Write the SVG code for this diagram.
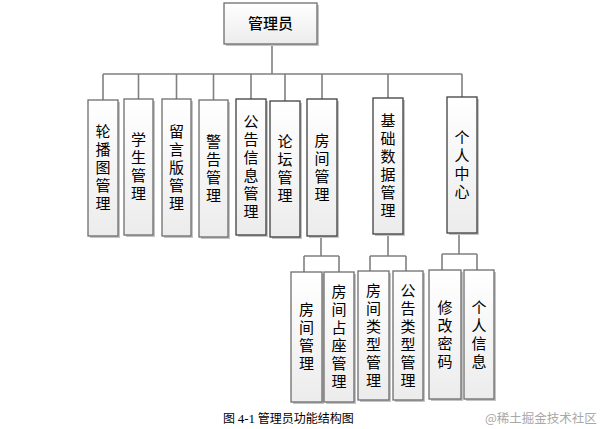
<svg xmlns="http://www.w3.org/2000/svg" width="601" height="429" viewBox="0 0 601 429">
<defs>
<linearGradient id="g" x1="0" y1="0" x2="0" y2="1">
<stop offset="0" stop-color="#ffffff"/>
<stop offset="1" stop-color="#ececec"/>
</linearGradient>
<style>
.sh{fill:#c4c4c4;}
.bx{fill:url(#g);stroke:#6e6e6e;stroke-width:1.3;}
.t{font-family:"Noto Sans CJK SC",sans-serif;font-size:15px;fill:#000;text-anchor:middle;}
.v{writing-mode:vertical-rl;letter-spacing:3px;}
.c{fill:none;stroke:#808080;stroke-width:1.6;}
.cap{font-family:"Noto Sans CJK SC",sans-serif;font-size:12px;fill:#000;}
.wm{font-family:"Noto Sans CJK SC",sans-serif;font-size:12.5px;fill:#a8a8a8;}
</style>
</defs>
<rect width="601" height="429" fill="#fff"/>
<g id="connectors">
<path class="c" d="M272,44V74M103,74H462M103,74V100M138.5,74V99M176.5,74V99M213.5,74V100M251,74V99M285,74V101M322,74V99M388,74V98M462,74V97"/>
<path class="c" d="M321,236V256M304,256H339M304,256V272M339,256V272"/>
<path class="c" d="M388,234V256M370,256H406M370,256V271M406,256V271"/>
<path class="c" d="M459,233V254M442,254H477M442,254V270M477,254V270"/>
</g>
<g id="n0"><rect class="sh" x="226" y="5" width="93" height="41"/><rect class="bx" x="224" y="3" width="93" height="41"/><text class="t" x="270.5" y="29" style="font-weight:500">管理员</text></g>
<g id="n1"><rect class="sh" x="90" y="102" width="30" height="136"/><rect class="bx" x="88" y="100" width="30" height="136"/><text class="t v" x="103" y="169">轮播图管理</text></g>
<g id="n2"><rect class="sh" x="126" y="101" width="29" height="136"/><rect class="bx" x="124" y="99" width="29" height="136"/><text class="t v" x="138.5" y="168">学生管理</text></g>
<g id="n3"><rect class="sh" x="164" y="101" width="29" height="137"/><rect class="bx" x="162" y="99" width="29" height="137"/><text class="t v" x="176.5" y="168.5">留言版管理</text></g>
<g id="n4"><rect class="sh" x="201" y="102" width="29" height="137"/><rect class="bx" x="199" y="100" width="29" height="137"/><text class="t v" x="213.5" y="169.5">警告管理</text></g>
<g id="n5"><rect class="sh" x="238" y="101" width="30" height="136"/><rect class="bx" x="236" y="99" width="30" height="136" style="stroke:#404040"/><text class="t v" x="251" y="168">公告信息管理</text></g>
<g id="n6"><rect class="sh" x="272" y="103" width="30" height="136"/><rect class="bx" x="270" y="101" width="30" height="136" style="stroke:#404040"/><text class="t v" x="285" y="170">论坛管理</text></g>
<g id="n7"><rect class="sh" x="309" y="101" width="30" height="137"/><rect class="bx" x="307" y="99" width="30" height="137" style="stroke:#404040"/><text class="t v" x="322" y="168.5">房间管理</text></g>
<g id="n8"><rect class="sh" x="375" y="100" width="30" height="136"/><rect class="bx" x="373" y="98" width="30" height="136" style="stroke:#404040"/><text class="t v" x="388" y="167">基础数据管理</text></g>
<g id="n9"><rect class="sh" x="449" y="99" width="30" height="136"/><rect class="bx" x="447" y="97" width="30" height="136" style="stroke:#404040"/><text class="t v" x="462" y="166">个人中心</text></g>
<g id="n10"><rect class="sh" x="293" y="274" width="31" height="130"/><rect class="bx" x="291" y="272" width="31" height="130"/><text class="t v" x="306.5" y="338">房间管理</text></g>
<g id="n11"><rect class="sh" x="326" y="274" width="30" height="130"/><rect class="bx" x="324" y="272" width="30" height="130"/><text class="t v" x="339" y="338">房间占座管理</text></g>
<g id="n12"><rect class="sh" x="360" y="273" width="31" height="129"/><rect class="bx" x="358" y="271" width="31" height="129"/><text class="t v" x="373.5" y="337">房间类型管理</text></g>
<g id="n13"><rect class="sh" x="395" y="273" width="30" height="129"/><rect class="bx" x="393" y="271" width="30" height="129"/><text class="t v" x="408" y="337">公告类型管理</text></g>
<g id="n14"><rect class="sh" x="431" y="272" width="32" height="129"/><rect class="bx" x="429" y="270" width="32" height="129"/><text class="t v" x="445" y="336">修改密码</text></g>
<g id="n15"><rect class="sh" x="466" y="272" width="30" height="129"/><rect class="bx" x="464" y="270" width="30" height="129"/><text class="t v" x="479" y="336">个人信息</text></g>
<text class="cap" x="223" y="423">图 <tspan style="font-family:'Liberation Serif',serif;font-size:13px">4-1</tspan> 管理员功能结构图</text>
<text class="wm" x="485" y="423">@稀土掘金技术社区</text>
</svg>
